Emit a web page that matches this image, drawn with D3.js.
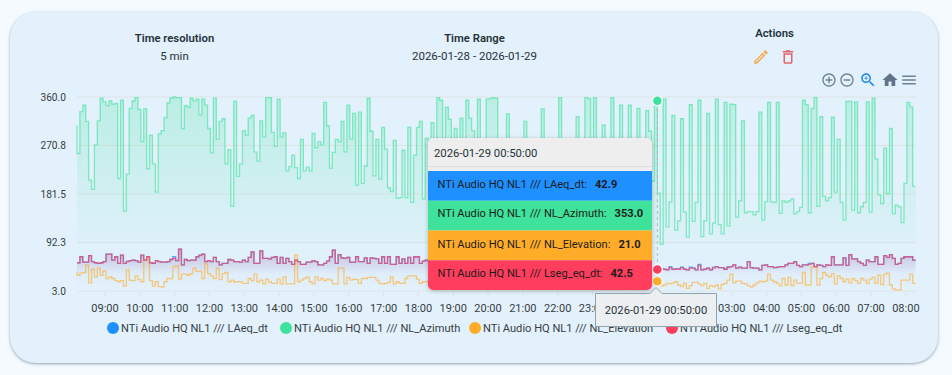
<!DOCTYPE html>
<html><head><meta charset="utf-8">
<script src="https://cdnjs.cloudflare.com/ajax/libs/d3/7.8.5/d3.min.js"></script>
<style>
html,body{margin:0;padding:0;background:#f5faff;width:952px;height:375px;overflow:hidden}
#card{position:absolute;left:10px;top:12px;width:928px;height:351px;background:#e2f1fc;border-radius:26px;box-shadow:0 1px 3px rgba(40,60,80,.45)}
svg{position:absolute;left:0;top:0}
text{font-family:Roboto,sans-serif}
</style></head><body><div id="card"></div><svg id="c" width="952" height="375"></svg>
<script>
const seriesNames=["NTi Audio HQ NL1 /// LAeq_dt","NTi Audio HQ NL1 /// NL_Azimuth","NTi Audio HQ NL1 /// NL_Elevation","NTi Audio HQ NL1 /// Lseg_eq_dt"];
const colors=["#1e90ff","#3ee29a","#ffad29","#ff3d5c"];
const startTime="2026-01-28T08:10:00";
const stepMinutes=5;
const yTicks=[360.0,270.8,181.5,92.3,3.0];
const xTickHours=["09:00","10:00","11:00","12:00","13:00","14:00","15:00","16:00","17:00","18:00","19:00","20:00","21:00","22:00","23:00","00:00","01:00","02:00","03:00","04:00","05:00","06:00","07:00","08:00"];
const tooltipValues=[42.9,353.0,21.0,42.5];

const azimuth=[308,256,333,345,315,207,190,272,316,358,351,344,353,347,348,210,354,150,218,339,353,359,337,278,338,228,290,237,185,292,298,322,349,358,360,359,359,302,344,341,358,353,356,327,356,345,302,257,358,282,315,320,237,263,159,352,214,
237,298,290,321,326,259,242,316,286,359,359,295,269,356,286,294,224,232,253,230,210,282,224,231,224,293,267,278,272,350,307,229,258,282,278,315,259,345,283,330,198,332,201,233,358,297,215,282,209,304,264,193,186,280,174,175,262,175,304,166,253,304,315,172,284,
280,
313,230,359,354,240,341,319,220,302,250,321,215,354,321,298,225,356,260,210,356,357,359,358,240,205,262,329,230,210,255,200,240,315,225,205,270,235,215,338,245,200,228,265,210,359,235,212,268,195,245,324,220,250,359,357,235,359,210,255,308,225,200,359,240,215,345,260,205,345,230,210,339,195,250,335,297,205,353,
183,89,356,121,167,326,115,132,320,148,102,346,131,166,354,103,132,330,108,128,356,125,108,350,123,347,346,139,169,316,147,149,149,143,149,332,134,167,350,167,166,350,146,169,166,169,172,145,149,157,354,346,147,339,359,159,324,177,169,175,323,185,282,166,134,352,352,152,351,147,158,166,351,148,358,246,180,164,266,182,302,145,161,158,129,201,350,342,196];

const lseg=[55,55,66,56,56,68,57,55,54,55,57,71,71,60,66,54,69,54,57,59,60,59,56,69,60,66,55,54,59,57,56,56,57,61,63,59,80,51,61,59,60,60,66,69,71,57,59,57,65,57,51,54,54,61,60,57,57,
56,60,57,65,75,54,54,77,63,63,62,65,66,54,65,54,63,57,52,60,57,52,52,56,56,59,57,51,51,54,58,66,78,54,70,64,63,65,56,56,66,57,57,64,54,64,63,62,54,66,54,66,52,52,66,54,62,54,65,54,66,66,54,58,60,57,
58,55,60,62,56,53,57,60,55,52,58,56,54,59,57,53,55,58,52,56,54,57,51,55,58,53,50,54,56,52,55,53,50,57,54,51,53,55,49,52,54,50,53,48,51,54,49,52,47,50,53,48,46,51,49,47,50,45,48,46,49,44,47,45,48,43,46,44,47,45,43,46,44,42,45,43,44,
42.5,
42,43,43,42,46,43,43,43,46,43,42,45,45,42,50,42,43,45,42,45,48,46,46,43,46,48,51,45,47,45,45,57,46,45,45,42,50,51,48,48,46,47,48,48,51,54,54,57,50,48,51,51,52,54,48,51,50,48,51,50,66,51,51,51,64,50,70,62,62,57,54,50,60,57,57,66,52,52,68,65,70,63,52,54,63,66,66,66,60];

const laeq=[55,55,66,56,56,68,57,55,54,55,57,71,71,60,66,54,69,54,58,59,60,59,56,69,60,66,55,54,59,57,56,56,57,61,66,59,80,51,61,59,60,60,66,69,71,57,59,57,65,57,51,54,54,61,60,57,57,
56,60,57,65,75,54,54,77,63,63,62,65,66,54,65,54,63,57,52,60,57,52,52,56,56,59,57,51,51,54,58,66,78,54,70,64,63,65,56,56,66,57,57,64,54,64,63,62,54,66,54,66,52,52,66,54,62,54,65,54,66,66,54,58,60,57,
58,55,60,62,56,53,57,60,55,52,58,56,54,59,57,53,55,58,52,56,54,57,51,55,58,53,50,54,56,52,55,53,50,57,54,51,53,55,49,52,54,50,53,48,51,54,49,52,47,50,53,48,46,51,49,47,50,45,48,46,49,44,47,45,48,43,46,44,47,45,43,46,44,42,45,43,44,
42.9,
42,44,43,42,48,43,44,44,47,43,42,47,45,42,52,42,43,45,42,47,48,46,46,43,48,48,51,45,47,45,45,57,46,45,45,42,50,51,48,48,46,47,48,48,51,54,54,57,50,48,51,51,54,54,48,51,50,48,51,50,66,51,51,51,64,50,70,62,62,57,54,50,60,57,57,66,52,52,68,65,70,63,52,54,63,66,66,66,60];

const elevation=[39,32,36,37,51,18,43,29,45,32,40,26,29,26,22,20,22,12,42,23,22,31,24,20,60,65,22,12,20,11,10,20,26,26,48,49,25,34,34,32,35,45,39,39,26,53,35,31,26,45,24,35,37,20,23,20,20,
20,17,17,26,22,34,20,23,16,25,20,17,17,25,16,29,16,16,16,70,20,23,26,29,20,16,29,23,26,22,25,23,16,16,45,45,16,28,23,25,24,17,26,26,28,28,28,23,17,16,17,19,29,16,20,17,17,26,31,31,31,25,17,20,20,22,
18,24,15,27,20,13,22,30,17,25,12,19,28,16,23,14,21,33,18,11,26,15,20,29,13,24,17,22,10,27,19,14,31,16,23,12,25,20,15,28,18,13,22,26,16,11,24,19,30,14,21,17,25,12,20,27,15,23,18,13,26,16,22,19,14,24,17,12,21,25,16,20,13,23,18,15,22,
21,
14,12,14,17,16,18,20,14,11,17,8,13,19,19,16,13,17,8,13,11,14,7,15,17,23,34,18,21,21,17,16,13,10,14,18,21,20,21,34,23,20,17,13,26,14,28,13,23,17,17,37,14,14,47,47,14,26,37,32,29,35,16,31,26,20,25,18,26,22,17,26,23,17,25,28,17,32,15,34,36,14,7,5,5,23,23,23,34,17];

const t0=new Date(startTime);
const times=azimuth.map((_,i)=>new Date(t0.getTime()+i*stepMinutes*60000));
const x=d3.scaleTime().domain([times[0],times[times.length-1]]).range([77,915.6]);
const y=d3.scaleLinear().domain([3,360]).range([291,97]);
const svg=d3.select("#c");
const defs=svg.append("defs");
const seriesValues=[laeq,azimuth,elevation,lseg];
const topOp=[.2,.24,.08,.2];
seriesValues.forEach((_,k)=>{
  const g=defs.append("linearGradient").attr("id","g"+k).attr("x1",0).attr("y1",0).attr("x2",0).attr("y2",1);
  g.append("stop").attr("offset","0%").attr("stop-color",colors[k]).attr("stop-opacity",topOp[k]);
  g.append("stop").attr("offset",k===1?"80%":"60%").attr("stop-color",colors[k]).attr("stop-opacity",0.01);
  g.append("stop").attr("offset","100%").attr("stop-color",colors[k]).attr("stop-opacity",0);
});
// header
const head=(t,cx,cy,b,fs)=>svg.append("text").attr("x",cx).attr("y",cy).attr("text-anchor","middle").attr("font-size",fs).attr("font-weight",b?600:400).attr("fill","#263238").text(t);
head("Time resolution",174.5,42,true,11.3);head("5 min",174.5,60,false,11.5);
head("Time Range",474.5,42,true,11.3);head("2026-01-28 - 2026-01-29",474.5,60,false,11.5);
head("Actions",774.5,37,true,11.3);
const ico=(d,cx,cy,s,c)=>svg.append("path").attr("d",d).attr("fill",c).attr("transform",`translate(${cx-s/2},${cy-s/2}) scale(${s/24})`);
ico("M3 17.25V21h3.75L17.81 9.94l-3.75-3.75L3 17.25zM5.92 19H5v-.92l9.06-9.06.92.92L5.92 19zM20.71 5.63l-2.34-2.34c-.2-.2-.45-.29-.71-.29s-.51.1-.7.29l-1.83 1.83 3.75 3.75 1.83-1.83c.39-.39.39-1.02 0-1.41z",761,57,18,"#f5a94a");
ico("M16 9v10H8V9h8m-1.5-6h-5l-1 1H5v2h14V4h-3.5l-1-1zM18 7H6v12c0 1.1.9 2 2 2h8c1.1 0 2-.9 2-2V7z",788,57,18,"#e5646a");
ico("M13 7h-2v4H7v2h4v4h2v-4h4v-2h-4V7zm-1-5C6.48 2 2 6.48 2 12s4.48 10 10 10 10-4.48 10-10S17.52 2 12 2zm0 18c-4.41 0-8-3.59-8-8s3.59-8 8-8 8 3.59 8 8-3.59 8-8 8z",829,80,16,"#6e8192");
ico("M7 11v2h10v-2H7zm5-9C6.48 2 2 6.48 2 12s4.48 10 10 10 10-4.48 10-10S17.52 2 12 2zm0 18c-4.41 0-8-3.59-8-8s3.59-8 8-8 8 3.59 8 8-3.59 8-8 8z",847,80,16,"#6e8192");
ico("M15.5 14h-.79l-.28-.27C15.41 12.59 16 11.11 16 9.5 16 5.91 13.09 3 9.5 3S3 5.91 3 9.5 5.91 16 9.5 16c1.61 0 3.09-.59 4.23-1.57l.27.28v.79l5 4.99L20.49 19l-4.99-5zm-6 0C7.01 14 5 11.99 5 9.5S7.01 5 9.5 5 14 7.01 14 9.5 11.99 14 9.5 14zM12 10h-2v2H9v-2H7V9h2V7h1v2h2v1z",868,80,18,"#1e88e5");
ico("M10 20v-6h4v6h5v-8h3L12 3 2 12h3v8z",890,80,18,"#5f7486");
ico("M3 18h18v-2H3v2zm0-5h18v-2H3v2zm0-7v2h18V6H3z",909,80,18,"#6e8192");
// grid and axes
const plot=svg.append("g");
plot.selectAll("line.g").data(yTicks).join("line").attr("x1",77).attr("x2",916).attr("y1",d=>y(d)).attr("y2",d=>y(d)).attr("stroke","#dfe3e6").attr("stroke-width",1);
svg.selectAll("text.yl").data(yTicks).join("text").attr("class","yl").attr("x",66).attr("y",d=>y(d)+3.5).attr("text-anchor","end").attr("font-size",10.2).attr("fill","#373d3f").text(d=>d.toFixed(1));
const base=new Date(t0);base.setMinutes(0,0,0);
const tickTimes=xTickHours.map((_,i)=>new Date(base.getTime()+(i+1)*3600000));
const xAxis=d3.axisBottom(x).tickValues(tickTimes).tickFormat((_,i)=>xTickHours[i]).tickSize(5).tickPadding(8.5);
const ax=svg.append("g").attr("transform","translate(-1.5,291)").call(xAxis);
ax.select(".domain").remove();
ax.selectAll("line").attr("stroke","#dfe3e6");
ax.selectAll("text").attr("font-family","Roboto,sans-serif").attr("font-size",11).attr("fill","#373d3f");
// series
const area=d3.area().x((d,i)=>x(times[i])).y0(y(3)).y1(d=>y(d)).curve(d3.curveStepBefore);
const line=d3.line().x((d,i)=>x(times[i])).y(d=>y(d)).curve(d3.curveStepBefore);
seriesValues.forEach((v,k)=>{
  plot.append("path").attr("d",area(v)).attr("fill",`url(#g${k})`);
});
const lineOp=[.7,.6,.6,.7];
seriesValues.forEach((v,k)=>{
  plot.append("path").attr("d",line(v)).attr("fill","none").attr("stroke",colors[k]).attr("stroke-opacity",lineOp[k]).attr("stroke-width",1.3);
});
// crosshair and markers
const hoverIndex=200;
const hx=x(times[hoverIndex]);
plot.append("line").attr("x1",hx).attr("x2",hx).attr("y1",97).attr("y2",291).attr("stroke","#b6b6b6").attr("stroke-dasharray","3,3");
seriesValues.forEach((v,k)=>{
  plot.append("circle").attr("cx",hx).attr("cy",y(v[hoverIndex])).attr("r",5).attr("fill",colors[k]).attr("stroke","#f2f8fd").attr("stroke-width",1.5);
});
// legend
const legendX=[113,286,475,672];
const leg=svg.append("g");
seriesNames.forEach((n,k)=>{
  leg.append("circle").attr("cx",legendX[k]).attr("cy",328).attr("r",6).attr("fill",colors[k]);
  leg.append("text").attr("x",legendX[k]+8).attr("y",332).attr("font-size",11.1).attr("fill","#373d3f").text(n);
});
// tooltip
const tip=svg.append("g");
defs.append("filter").attr("id","sh").attr("x","-10%").attr("y","-10%").attr("width","120%").attr("height","125%").html('<feDropShadow dx="0" dy="1" stdDeviation="2" flood-color="#000" flood-opacity=".25"/>');
tip.append("rect").attr("x",428).attr("y",138).attr("width",224).attr("height",152).attr("rx",5).attr("fill","#eeeeee").attr("filter","url(#sh)");
tip.append("line").attr("x1",428).attr("x2",652).attr("y1",166.5).attr("y2",166.5).attr("stroke","#dddddd");
tip.append("text").attr("x",434).attr("y",157).attr("font-size",11.3).attr("fill","#263238").text("2026-01-29 00:50:00");
const rowY=d3.scaleBand().domain(d3.range(4)).range([171,290]);
seriesNames.forEach((n,k)=>{
  const h=rowY.bandwidth();
  if(k<3) tip.append("rect").attr("x",428).attr("y",rowY(k)).attr("width",224).attr("height",h).attr("fill",colors[k]);
  else tip.append("path").attr("d",`M428 ${rowY(k)}H652V285a5 5 0 0 1-5 5H433a5 5 0 0 1-5-5Z`).attr("fill",colors[k]);
  const t=tip.append("text").attr("x",437.5).attr("y",[188,217,248,277][k]).attr("font-size",11.1).attr("fill","#1c1c1c").text(n+":");
  t.append("tspan").attr("dx",8).attr("font-weight",700).text(tooltipValues[k].toFixed(1));
});
// x tooltip
const xt=svg.append("g");
xt.append("path").attr("d",`M595.5 293.5H650L656 287.5L662 293.5H716.5V326.5H595.5Z`).attr("fill","#eceff1").attr("stroke","#90a4ae");
xt.append("text").attr("x",656).attr("y",314).attr("text-anchor","middle").attr("font-size",11.2).attr("fill","#263238").text("2026-01-29 00:50:00");
</script></body></html>
